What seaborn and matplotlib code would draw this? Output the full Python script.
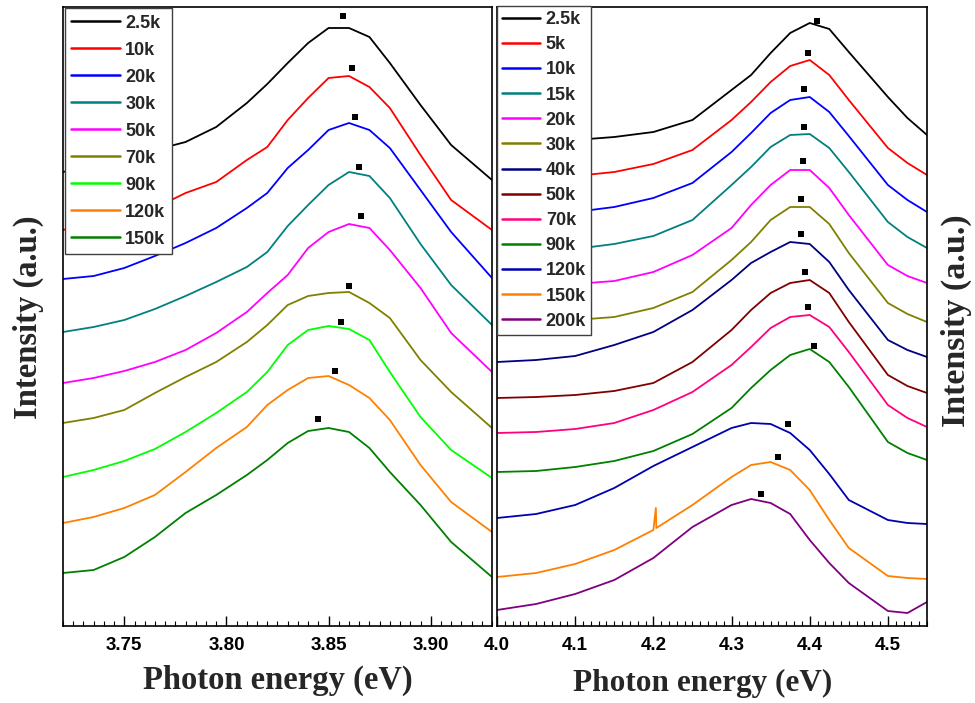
import numpy as np
import pandas as pd
import matplotlib
matplotlib.use("Agg")
import matplotlib.pyplot as plt
import seaborn as sns
from matplotlib.ticker import MultipleLocator, FormatStrFormatter

sns.set_theme(style="white")
plt.rcParams['font.family'] = ['Liberation Sans', 'DejaVu Sans']
plt.rcParams['font.weight'] = 'bold'

# ---------------- Left panel data (intensity in arbitrary units) ----------------
left_energy = [3.72, 3.735, 3.75, 3.765, 3.78, 3.795, 3.81, 3.82, 3.83, 3.84,
               3.85, 3.86, 3.87, 3.88, 3.895, 3.91, 3.93]
left_labels = ["2.5k", "10k", "20k", "30k", "50k", "70k", "90k", "120k", "150k"]
left_colors = ["#000000", "#FF0000", "#0000FF", "#008080", "#FF00FF",
               "#808000", "#00FF00", "#FF8000", "#008000"]
L_2p5k = [454, 461, 469, 476, 484, 499, 523, 542, 563, 583, 598, 598, 589, 563, 521, 481, 446]
L_10k = [396, 404, 411, 418, 433, 444, 466, 479, 506, 528, 548, 550, 539, 518, 471, 426, 396]
L_20k = [347, 350, 358, 370, 383, 398, 418, 433, 458, 476, 496, 503, 496, 478, 436, 394, 348]
L_30k = [294, 299, 306, 317, 330, 344, 359, 374, 400, 421, 441, 454, 450, 428, 382, 341, 301]
L_50k = [243, 248, 255, 264, 276, 293, 314, 333, 351, 378, 394, 402, 398, 376, 338, 293, 254]
L_70k = [203, 208, 216, 233, 249, 264, 284, 301, 321, 330, 333, 334, 323, 308, 266, 234, 198]
L_90k = [149, 156, 165, 177, 194, 213, 234, 254, 281, 296, 300, 297, 286, 254, 209, 176, 148]
L_120k = [103, 109, 118, 131, 154, 178, 199, 221, 236, 248, 250, 241, 228, 206, 161, 124, 94]
L_150k = [53, 56, 69, 89, 113, 131, 151, 166, 183, 195, 198, 194, 178, 154, 121, 84, 49]
left_peak_x = [3.857, 3.8615, 3.863, 3.865, 3.866, 3.860, 3.856, 3.853, 3.845]
left_peak_y = [610, 558, 509, 459, 410, 340, 304, 255, 207]

# ---------------- Right panel data ----------------
right_energy = [4.00, 4.05, 4.10, 4.15, 4.20, 4.25, 4.30, 4.325, 4.35, 4.375,
                4.40, 4.425, 4.45, 4.50, 4.525, 4.55]
right_energy_150k = [4.00, 4.05, 4.10, 4.15, 4.20, 4.2032, 4.2038, 4.25, 4.30, 4.325,
                     4.35, 4.375, 4.40, 4.425, 4.45, 4.50, 4.525, 4.55]
right_labels = ["2.5k", "5k", "10k", "15k", "20k", "30k", "40k", "50k",
                "70k", "90k", "120k", "150k", "200k"]
right_colors = ["#000000", "#FF0000", "#0000FF", "#008080", "#FF00FF", "#808000",
                "#000080", "#800000", "#FF0080", "#008000", "#0000B0", "#FF8000", "#800080"]
R_2p5k = [484, 485, 486, 489, 494, 506, 536, 551, 573, 593, 603, 597, 574, 529, 508, 491]
R_5k = [447, 448, 450, 454, 462, 476, 506, 524, 544, 560, 566, 551, 526, 478, 463, 451]
R_10k = [411, 412, 414, 419, 428, 443, 474, 493, 513, 526, 529, 514, 490, 441, 426, 414]
R_15k = [374, 375, 377, 382, 390, 406, 441, 459, 479, 491, 492, 478, 454, 404, 389, 378]
R_20k = [339, 340, 342, 345, 354, 371, 398, 421, 441, 456, 456, 438, 411, 361, 350, 343]
R_30k = [303, 304, 306, 309, 318, 334, 366, 384, 406, 419, 419, 402, 373, 323, 312, 304]
R_40k = [264, 266, 270, 281, 294, 316, 346, 363, 374, 384, 382, 364, 336, 286, 276, 269]
R_50k = [228, 229, 231, 235, 243, 264, 296, 316, 333, 343, 346, 333, 304, 251, 240, 233]
R_70k = [193, 194, 197, 203, 216, 234, 261, 279, 298, 309, 311, 299, 274, 221, 208, 199]
R_90k = [154, 155, 159, 165, 175, 192, 218, 238, 256, 271, 277, 264, 239, 184, 173, 166]
R_120k = [108, 112, 121, 138, 160, 179, 198, 203, 202, 193, 176, 152, 126, 106, 103, 102]
R_150k = [49, 53, 62, 76, 96, 118, 98, 121, 149, 161, 164, 156, 136, 106, 78, 50, 48, 47]
R_200k = [16, 22, 32, 46, 68, 99, 121, 127, 123, 112, 86, 63, 43, 15, 13, 24]
right_peak_x = [4.409, 4.398, 4.393, 4.393, 4.392, 4.389, 4.389, 4.394, 4.398,
                4.406, 4.372, 4.360, 4.338]
right_peak_y = [605, 573, 537, 499, 465, 427, 392, 354, 319, 280, 202, 169, 132]

left_series = [L_2p5k, L_10k, L_20k, L_30k, L_50k, L_70k, L_90k, L_120k, L_150k]
right_series = [R_2p5k, R_5k, R_10k, R_15k, R_20k, R_30k, R_40k, R_50k, R_70k,
                R_90k, R_120k, R_150k, R_200k]


def to_long(labels, series, energies):
    rows = []
    for lab, vals, en in zip(labels, series, energies):
        for e, v in zip(en, vals):
            rows.append((lab, e, v))
    return pd.DataFrame(rows, columns=["dose", "energy", "intensity"])


dfL = to_long(left_labels, left_series, [left_energy] * len(left_labels))
right_en = [right_energy] * len(right_labels)
right_en[right_labels.index("150k")] = right_energy_150k
dfR = to_long(right_labels, right_series, right_en)

fig = plt.figure(figsize=(9.75, 7.03), dpi=100)
axL = fig.add_axes([63 / 975, 77 / 703, 429 / 975, 619 / 703])
axR = fig.add_axes([497 / 975, 77 / 703, 430 / 975, 619 / 703])

for ax, df, labels, colors, px, py in [
        (axL, dfL, left_labels, left_colors, left_peak_x, left_peak_y),
        (axR, dfR, right_labels, right_colors, right_peak_x, right_peak_y)]:
    sns.lineplot(data=df, x="energy", y="intensity", hue="dose", hue_order=labels,
                 palette=dict(zip(labels, colors)), estimator=None, sort=False,
                 linewidth=1.3, ax=ax)
    sns.scatterplot(x=px, y=py, marker="s", s=13, color="black", edgecolor="black",
                    linewidth=0, legend=False, zorder=5, ax=ax)
    ax.set_ylim(0, 619)
    ax.set_yticks([])
    ax.set_ylabel("")
    for sp in ax.spines.values():
        sp.set_visible(True)
        sp.set_color("black")
        sp.set_linewidth(1.2)
    ax.tick_params(axis="x", which="major", direction="in", length=7, width=1,
                   bottom=True, top=False, pad=8, labelsize=13.5, colors="black")
    ax.tick_params(axis="x", which="minor", direction="in", length=3.5, width=0.8,
                   bottom=True, top=False, colors="black")
    for t in ax.get_xticklabels():
        t.set_fontweight("bold")

axL.set_xlim(3.72, 3.93)
axL.xaxis.set_major_locator(MultipleLocator(0.05))
axL.xaxis.set_minor_locator(MultipleLocator(0.005))
axL.xaxis.set_major_formatter(FormatStrFormatter("%.2f"))

axR.set_xlim(4.0, 4.55)
axR.xaxis.set_major_locator(MultipleLocator(0.1))
axR.xaxis.set_minor_locator(MultipleLocator(0.01))
axR.xaxis.set_major_formatter(FormatStrFormatter("%.1f"))

serif = ["Liberation Serif", "DejaVu Serif"]
axL.set_xlabel("Photon energy (eV)", family=serif, fontsize=23.5, fontweight="bold")
axL.xaxis.set_label_coords(0.501, -0.062)
axR.set_xlabel("Photon energy (eV)", family=serif, fontsize=22.5, fontweight="bold")
axR.xaxis.set_label_coords(0.478, -0.069)

axL.set_ylabel("Intensity (a.u.)", family=serif, fontsize=23.5, fontweight="bold")
axL.yaxis.set_label_coords(-0.044, 0.499)
axR.yaxis.set_label_position("right")
axR.set_ylabel("Intensity (a.u.)", family=serif, fontsize=24.5, fontweight="bold")
axR.yaxis.set_label_coords(1.033, 0.494)

legend_prop = {"family": ["Liberation Sans", "DejaVu Sans"], "weight": "bold", "size": 13}
sns.move_legend(axL, "upper left", bbox_to_anchor=(0.004, 0.998), title=None,
                frameon=True, prop=legend_prop, handlelength=2.7, labelspacing=0.555,
                handletextpad=0.3, borderpad=0.35, borderaxespad=0, fancybox=False,
                framealpha=1, edgecolor="0.25")
sns.move_legend(axR, "upper left", bbox_to_anchor=(0.0, 1.002), title=None,
                frameon=True, prop=legend_prop, handlelength=2.1, labelspacing=0.45,
                handletextpad=0.3, borderpad=0.3, borderaxespad=0, fancybox=False,
                framealpha=1, edgecolor="0.25")
for ax in (axL, axR):
    leg = ax.get_legend()
    leg.get_frame().set_linewidth(1.0)
    for h in leg.get_lines():
        h.set_linewidth(1.8)

fig.savefig("out.png", dpi=100)
